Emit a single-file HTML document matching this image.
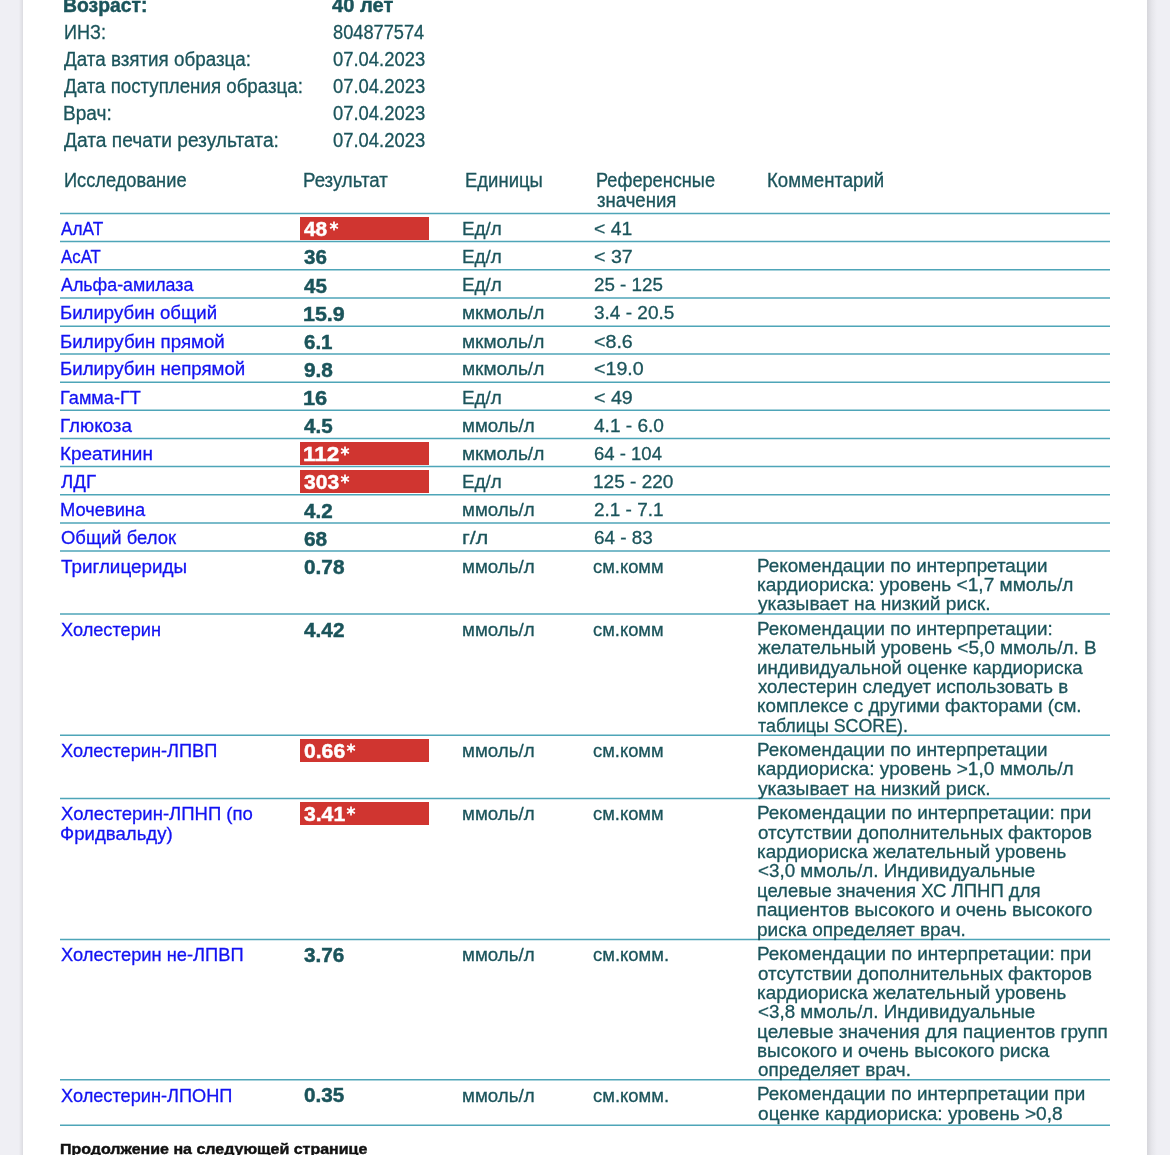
<!DOCTYPE html>
<html><head><meta charset="utf-8"><style>
html,body{margin:0;padding:0;}
body{width:1170px;height:1155px;overflow:hidden;position:relative;background:#efeff4;font-family:"Liberation Sans",sans-serif;color:#1b545b;}
.page{position:absolute;left:23px;top:0;width:1124px;height:1155px;background:#fff;}
.shL{position:absolute;left:19px;top:0;width:4px;height:1155px;background:linear-gradient(to right,#eeeef3,#dcdce1);}
.shR{position:absolute;left:1147px;top:0;width:10px;height:1155px;background:linear-gradient(to right,#d6d6db,#e6e6eb 50%,#efeff4);}
.t{position:absolute;white-space:nowrap;transform-origin:0 0;-webkit-text-stroke:0.3px currentColor;}
.wrap{position:absolute;left:0;top:0;width:1170px;height:1155px;will-change:transform;}
.l{position:absolute;height:1px;background:#4ea5b8;box-shadow:0 1px 0 rgba(78,165,184,.33),0 -1px 0 rgba(78,165,184,.28);}
.r{position:absolute;background:#d03530;}
.ast{position:absolute;overflow:visible;}
.lines{position:absolute;left:0;top:0;}
</style></head><body>
<div class="page"></div><div class="shL"></div><div class="shR"></div>
<div class="wrap">
<svg class="lines" width="1170" height="1155" viewBox="0 0 1170 1155"><g stroke="#4ea5b8" stroke-width="1.5"><line x1="60" x2="1110" y1="213.50" y2="213.50"/><line x1="60" x2="1110" y1="241.60" y2="241.60"/><line x1="60" x2="1110" y1="269.80" y2="269.80"/><line x1="60" x2="1110" y1="298.00" y2="298.00"/><line x1="60" x2="1110" y1="326.20" y2="326.20"/><line x1="60" x2="1110" y1="354.00" y2="354.00"/><line x1="60" x2="1110" y1="382.20" y2="382.20"/><line x1="60" x2="1110" y1="410.30" y2="410.30"/><line x1="60" x2="1110" y1="438.50" y2="438.50"/><line x1="60" x2="1110" y1="466.60" y2="466.60"/><line x1="60" x2="1110" y1="494.80" y2="494.80"/><line x1="60" x2="1110" y1="523.00" y2="523.00"/><line x1="60" x2="1110" y1="550.90" y2="550.90"/><line x1="60" x2="1110" y1="614.00" y2="614.00"/><line x1="60" x2="1110" y1="735.20" y2="735.20"/><line x1="60" x2="1110" y1="798.60" y2="798.60"/><line x1="60" x2="1110" y1="939.40" y2="939.40"/><line x1="60" x2="1110" y1="1079.70" y2="1079.70"/><line x1="60" x2="1110" y1="1125.20" y2="1125.20"/></g></svg>
<div class="r" style="left:300px;top:217.20px;width:129.00px;height:22.70px"></div>
<svg class="ast" style="left:328.50px;top:221.30px" width="10" height="10" viewBox="-5 -5 10 10"><path d="M0 -4.4V4.4M-3.9 -2.25L3.9 2.25M-3.9 2.25L3.9 -2.25" stroke="#fff" stroke-width="1.75" fill="none"/></svg>
<div class="r" style="left:300px;top:442.20px;width:129.00px;height:22.70px"></div>
<svg class="ast" style="left:340.40px;top:446.30px" width="10" height="10" viewBox="-5 -5 10 10"><path d="M0 -4.4V4.4M-3.9 -2.25L3.9 2.25M-3.9 2.25L3.9 -2.25" stroke="#fff" stroke-width="1.75" fill="none"/></svg>
<div class="r" style="left:300px;top:470.30px;width:129.00px;height:22.70px"></div>
<svg class="ast" style="left:340.40px;top:474.40px" width="10" height="10" viewBox="-5 -5 10 10"><path d="M0 -4.4V4.4M-3.9 -2.25L3.9 2.25M-3.9 2.25L3.9 -2.25" stroke="#fff" stroke-width="1.75" fill="none"/></svg>
<div class="r" style="left:300px;top:738.90px;width:129.00px;height:22.70px"></div>
<svg class="ast" style="left:346.40px;top:743.00px" width="10" height="10" viewBox="-5 -5 10 10"><path d="M0 -4.4V4.4M-3.9 -2.25L3.9 2.25M-3.9 2.25L3.9 -2.25" stroke="#fff" stroke-width="1.75" fill="none"/></svg>
<div class="r" style="left:300px;top:802.30px;width:129.00px;height:22.70px"></div>
<svg class="ast" style="left:346.40px;top:806.40px" width="10" height="10" viewBox="-5 -5 10 10"><path d="M0 -4.4V4.4M-3.9 -2.25L3.9 2.25M-3.9 2.25L3.9 -2.25" stroke="#fff" stroke-width="1.75" fill="none"/></svg>
<div class="t" style="left:63.43px;top:-5.00px;font-size:20px;line-height:20px;font-weight:700;-webkit-text-stroke:0.45px currentColor;transform:scaleX(0.9670);">Возраст:</div>
<div class="t" style="left:332.10px;top:-5.00px;font-size:20px;line-height:20px;font-weight:700;-webkit-text-stroke:0.45px currentColor;transform:scaleX(1.0065);">40 лет</div>
<div class="t" style="left:63.50px;top:22.00px;font-size:20px;line-height:20px;transform:scaleX(0.9021);">ИНЗ:</div>
<div class="t" style="left:332.50px;top:22.00px;font-size:20px;line-height:20px;transform:scaleX(0.9111);">804877574</div>
<div class="t" style="left:64.40px;top:49.00px;font-size:20px;line-height:20px;transform:scaleX(0.9406);">Дата взятия образца:</div>
<div class="t" style="left:332.50px;top:49.00px;font-size:20px;line-height:20px;transform:scaleX(0.9212);">07.04.2023</div>
<div class="t" style="left:64.40px;top:76.00px;font-size:20px;line-height:20px;transform:scaleX(0.9355);">Дата поступления образца:</div>
<div class="t" style="left:332.50px;top:76.00px;font-size:20px;line-height:20px;transform:scaleX(0.9212);">07.04.2023</div>
<div class="t" style="left:63.45px;top:103.00px;font-size:20px;line-height:20px;transform:scaleX(0.9533);">Врач:</div>
<div class="t" style="left:332.50px;top:103.00px;font-size:20px;line-height:20px;transform:scaleX(0.9212);">07.04.2023</div>
<div class="t" style="left:64.40px;top:130.00px;font-size:20px;line-height:20px;transform:scaleX(0.9585);">Дата печати результата:</div>
<div class="t" style="left:332.50px;top:130.00px;font-size:20px;line-height:20px;transform:scaleX(0.9212);">07.04.2023</div>
<div class="t" style="left:63.86px;top:171.00px;font-size:19.5px;line-height:19.5px;transform:scaleX(0.9351);">Исследование</div>
<div class="t" style="left:303.04px;top:171.00px;font-size:19.5px;line-height:19.5px;transform:scaleX(0.9572);">Результат</div>
<div class="t" style="left:465.35px;top:171.00px;font-size:19.5px;line-height:19.5px;transform:scaleX(0.9475);">Единицы</div>
<div class="t" style="left:596.27px;top:171.00px;font-size:19.5px;line-height:19.5px;transform:scaleX(0.9319);">Референсные</div>
<div class="t" style="left:597.20px;top:191.00px;font-size:19.5px;line-height:19.5px;transform:scaleX(0.9518);">значения</div>
<div class="t" style="left:767.35px;top:171.00px;font-size:19.5px;line-height:19.5px;transform:scaleX(0.9543);">Комментарий</div>
<div class="t" style="left:61.00px;top:219.00px;font-size:19px;line-height:19px;color:#1212f2;transform:scaleX(0.9095);">АлАТ</div>
<div class="t" style="left:304.00px;top:219.00px;font-size:20px;line-height:20px;font-weight:700;-webkit-text-stroke:0.45px currentColor;color:#fff;transform:scaleX(1.0442);">48</div>
<div class="t" style="left:462.41px;top:219.00px;font-size:19px;line-height:19px;transform:scaleX(0.9937);">Ед/л</div>
<div class="t" style="left:594.20px;top:219.00px;font-size:19px;line-height:19px;transform:scaleX(1.0178);">&lt; 41</div>
<div class="t" style="left:61.00px;top:247.00px;font-size:19px;line-height:19px;color:#1212f2;transform:scaleX(0.8862);">АсАТ</div>
<div class="t" style="left:304.40px;top:247.00px;font-size:20px;line-height:20px;font-weight:700;-webkit-text-stroke:0.45px currentColor;transform:scaleX(1.0261);">36</div>
<div class="t" style="left:462.41px;top:247.00px;font-size:19px;line-height:19px;transform:scaleX(0.9937);">Ед/л</div>
<div class="t" style="left:594.20px;top:247.00px;font-size:19px;line-height:19px;transform:scaleX(1.0341);">&lt; 37</div>
<div class="t" style="left:61.00px;top:275.00px;font-size:19px;line-height:19px;color:#1212f2;transform:scaleX(0.9380);">Альфа-амилаза</div>
<div class="t" style="left:304.40px;top:276.00px;font-size:20px;line-height:20px;font-weight:700;-webkit-text-stroke:0.45px currentColor;transform:scaleX(1.0261);">45</div>
<div class="t" style="left:462.41px;top:275.00px;font-size:19px;line-height:19px;transform:scaleX(0.9937);">Ед/л</div>
<div class="t" style="left:594.20px;top:275.00px;font-size:19px;line-height:19px;transform:scaleX(0.9891);">25 - 125</div>
<div class="t" style="left:60.02px;top:303.00px;font-size:19px;line-height:19px;color:#1212f2;transform:scaleX(0.9792);">Билирубин общий</div>
<div class="t" style="left:303.33px;top:304.00px;font-size:20px;line-height:20px;font-weight:700;-webkit-text-stroke:0.45px currentColor;transform:scaleX(1.0714);">15.9</div>
<div class="t" style="left:462.40px;top:303.00px;font-size:19px;line-height:19px;transform:scaleX(1.0044);">мкмоль/л</div>
<div class="t" style="left:594.20px;top:303.00px;font-size:19px;line-height:19px;transform:scaleX(1.0011);">3.4 - 20.5</div>
<div class="t" style="left:60.01px;top:332.00px;font-size:19px;line-height:19px;color:#1212f2;transform:scaleX(0.9851);">Билирубин прямой</div>
<div class="t" style="left:304.40px;top:332.00px;font-size:20px;line-height:20px;font-weight:700;-webkit-text-stroke:0.45px currentColor;transform:scaleX(1.0260);">6.1</div>
<div class="t" style="left:462.40px;top:332.00px;font-size:19px;line-height:19px;transform:scaleX(1.0044);">мкмоль/л</div>
<div class="t" style="left:594.20px;top:332.00px;font-size:19px;line-height:19px;transform:scaleX(1.0341);">&lt;8.6</div>
<div class="t" style="left:60.02px;top:359.00px;font-size:19px;line-height:19px;color:#1212f2;transform:scaleX(0.9837);">Билирубин непрямой</div>
<div class="t" style="left:304.40px;top:360.00px;font-size:20px;line-height:20px;font-weight:700;-webkit-text-stroke:0.45px currentColor;transform:scaleX(1.0405);">9.8</div>
<div class="t" style="left:462.40px;top:359.00px;font-size:19px;line-height:19px;transform:scaleX(1.0044);">мкмоль/л</div>
<div class="t" style="left:594.20px;top:359.00px;font-size:19px;line-height:19px;transform:scaleX(1.0335);">&lt;19.0</div>
<div class="t" style="left:60.05px;top:388.00px;font-size:19px;line-height:19px;color:#1212f2;transform:scaleX(0.9549);">Гамма-ГТ</div>
<div class="t" style="left:303.31px;top:388.00px;font-size:20px;line-height:20px;font-weight:700;-webkit-text-stroke:0.45px currentColor;transform:scaleX(1.0889);">16</div>
<div class="t" style="left:462.41px;top:388.00px;font-size:19px;line-height:19px;transform:scaleX(0.9937);">Ед/л</div>
<div class="t" style="left:594.20px;top:388.00px;font-size:19px;line-height:19px;transform:scaleX(1.0341);">&lt; 49</div>
<div class="t" style="left:60.01px;top:416.00px;font-size:19px;line-height:19px;color:#1212f2;transform:scaleX(0.9882);">Глюкоза</div>
<div class="t" style="left:304.40px;top:416.00px;font-size:20px;line-height:20px;font-weight:700;-webkit-text-stroke:0.45px currentColor;transform:scaleX(1.0296);">4.5</div>
<div class="t" style="left:462.41px;top:416.00px;font-size:19px;line-height:19px;transform:scaleX(0.9869);">ммоль/л</div>
<div class="t" style="left:594.20px;top:416.00px;font-size:19px;line-height:19px;transform:scaleX(1.0037);">4.1 - 6.0</div>
<div class="t" style="left:60.00px;top:444.00px;font-size:19px;line-height:19px;color:#1212f2;transform:scaleX(0.9959);">Креатинин</div>
<div class="t" style="left:302.88px;top:444.00px;font-size:20px;line-height:20px;font-weight:700;-webkit-text-stroke:0.45px currentColor;color:#fff;transform:scaleX(1.1239);">112</div>
<div class="t" style="left:462.40px;top:444.00px;font-size:19px;line-height:19px;transform:scaleX(1.0044);">мкмоль/л</div>
<div class="t" style="left:594.20px;top:444.00px;font-size:19px;line-height:19px;transform:scaleX(0.9750);">64 - 104</div>
<div class="t" style="left:61.00px;top:472.00px;font-size:19px;line-height:19px;color:#1212f2;transform:scaleX(0.9820);">ЛДГ</div>
<div class="t" style="left:304.00px;top:472.00px;font-size:20px;line-height:20px;font-weight:700;-webkit-text-stroke:0.45px currentColor;color:#fff;transform:scaleX(1.0528);">303</div>
<div class="t" style="left:462.41px;top:472.00px;font-size:19px;line-height:19px;transform:scaleX(0.9937);">Ед/л</div>
<div class="t" style="left:593.20px;top:472.00px;font-size:19px;line-height:19px;transform:scaleX(1.0010);">125 - 220</div>
<div class="t" style="left:60.04px;top:500.00px;font-size:19px;line-height:19px;color:#1212f2;transform:scaleX(0.9629);">Мочевина</div>
<div class="t" style="left:304.40px;top:501.00px;font-size:20px;line-height:20px;font-weight:700;-webkit-text-stroke:0.45px currentColor;transform:scaleX(1.0296);">4.2</div>
<div class="t" style="left:462.41px;top:500.00px;font-size:19px;line-height:19px;transform:scaleX(0.9869);">ммоль/л</div>
<div class="t" style="left:594.20px;top:500.00px;font-size:19px;line-height:19px;transform:scaleX(0.9979);">2.1 - 7.1</div>
<div class="t" style="left:61.00px;top:528.00px;font-size:19px;line-height:19px;color:#1212f2;transform:scaleX(0.9701);">Общий белок</div>
<div class="t" style="left:304.40px;top:529.00px;font-size:20px;line-height:20px;font-weight:700;-webkit-text-stroke:0.45px currentColor;transform:scaleX(1.0396);">68</div>
<div class="t" style="left:462.27px;top:528.00px;font-size:19px;line-height:19px;transform:scaleX(1.1316);">г/л</div>
<div class="t" style="left:594.20px;top:528.00px;font-size:19px;line-height:19px;transform:scaleX(0.9951);">64 - 83</div>
<div class="t" style="left:61.00px;top:557.00px;font-size:19px;line-height:19px;color:#1212f2;transform:scaleX(0.9910);">Триглицериды</div>
<div class="t" style="left:304.40px;top:557.00px;font-size:20px;line-height:20px;font-weight:700;-webkit-text-stroke:0.45px currentColor;transform:scaleX(1.0386);">0.78</div>
<div class="t" style="left:462.41px;top:557.00px;font-size:19px;line-height:19px;transform:scaleX(0.9869);">ммоль/л</div>
<div class="t" style="left:593.00px;top:557.00px;font-size:19px;line-height:19px;transform:scaleX(0.9667);">см.комм</div>
<div class="t" style="left:756.61px;top:556.00px;font-size:19px;line-height:19px;transform:scaleX(0.9902);">Рекомендации по интерпретации</div>
<div class="t" style="left:756.60px;top:575.00px;font-size:19px;line-height:19px;transform:scaleX(1.0042);">кардиориска: уровень &lt;1,7 ммоль/л</div>
<div class="t" style="left:757.60px;top:594.00px;font-size:19px;line-height:19px;transform:scaleX(1.0084);">указывает на низкий риск.</div>
<div class="t" style="left:61.00px;top:620.00px;font-size:19px;line-height:19px;color:#1212f2;transform:scaleX(0.9567);">Холестерин</div>
<div class="t" style="left:304.40px;top:620.00px;font-size:20px;line-height:20px;font-weight:700;-webkit-text-stroke:0.45px currentColor;transform:scaleX(1.0386);">4.42</div>
<div class="t" style="left:462.41px;top:620.00px;font-size:19px;line-height:19px;transform:scaleX(0.9869);">ммоль/л</div>
<div class="t" style="left:593.00px;top:620.00px;font-size:19px;line-height:19px;transform:scaleX(0.9667);">см.комм</div>
<div class="t" style="left:756.61px;top:619.00px;font-size:19px;line-height:19px;transform:scaleX(0.9896);">Рекомендации по интерпретации:</div>
<div class="t" style="left:757.60px;top:638.00px;font-size:19px;line-height:19px;transform:scaleX(0.9975);">желательный уровень &lt;5,0 ммоль/л. В</div>
<div class="t" style="left:756.62px;top:658.00px;font-size:19px;line-height:19px;transform:scaleX(0.9847);">индивидуальной оценке кардиориска</div>
<div class="t" style="left:757.60px;top:677.00px;font-size:19px;line-height:19px;transform:scaleX(0.9806);">холестерин следует использовать в</div>
<div class="t" style="left:756.61px;top:696.00px;font-size:19px;line-height:19px;transform:scaleX(0.9888);">комплексе с другими факторами (см.</div>
<div class="t" style="left:757.60px;top:716.00px;font-size:19px;line-height:19px;transform:scaleX(0.9388);">таблицы SCORE).</div>
<div class="t" style="left:61.00px;top:741.00px;font-size:19px;line-height:19px;color:#1212f2;transform:scaleX(0.9569);">Холестерин-ЛПВП</div>
<div class="t" style="left:304.00px;top:741.00px;font-size:20px;line-height:20px;font-weight:700;-webkit-text-stroke:0.45px currentColor;color:#fff;transform:scaleX(1.0566);">0.66</div>
<div class="t" style="left:462.41px;top:741.00px;font-size:19px;line-height:19px;transform:scaleX(0.9869);">ммоль/л</div>
<div class="t" style="left:593.00px;top:741.00px;font-size:19px;line-height:19px;transform:scaleX(0.9667);">см.комм</div>
<div class="t" style="left:756.61px;top:740.00px;font-size:19px;line-height:19px;transform:scaleX(0.9902);">Рекомендации по интерпретации</div>
<div class="t" style="left:756.60px;top:759.00px;font-size:19px;line-height:19px;transform:scaleX(1.0048);">кардиориска: уровень &gt;1,0 ммоль/л</div>
<div class="t" style="left:757.60px;top:779.00px;font-size:19px;line-height:19px;transform:scaleX(1.0084);">указывает на низкий риск.</div>
<div class="t" style="left:61.00px;top:804.00px;font-size:19px;line-height:19px;color:#1212f2;transform:scaleX(0.9750);">Холестерин-ЛПНП (по</div>
<div class="t" style="left:60.02px;top:824.00px;font-size:19px;line-height:19px;color:#1212f2;transform:scaleX(0.9795);">Фридвальду)</div>
<div class="t" style="left:304.00px;top:804.00px;font-size:20px;line-height:20px;font-weight:700;-webkit-text-stroke:0.45px currentColor;color:#fff;transform:scaleX(1.0566);">3.41</div>
<div class="t" style="left:462.41px;top:804.00px;font-size:19px;line-height:19px;transform:scaleX(0.9869);">ммоль/л</div>
<div class="t" style="left:593.00px;top:804.00px;font-size:19px;line-height:19px;transform:scaleX(0.9667);">см.комм</div>
<div class="t" style="left:756.60px;top:803.00px;font-size:19px;line-height:19px;transform:scaleX(0.9967);">Рекомендации по интерпретации: при</div>
<div class="t" style="left:757.60px;top:823.00px;font-size:19px;line-height:19px;transform:scaleX(0.9862);">отсутствии дополнительных факторов</div>
<div class="t" style="left:756.61px;top:842.00px;font-size:19px;line-height:19px;transform:scaleX(0.9925);">кардиориска желательный уровень</div>
<div class="t" style="left:757.60px;top:861.00px;font-size:19px;line-height:19px;transform:scaleX(0.9896);">&lt;3,0 ммоль/л. Индивидуальные</div>
<div class="t" style="left:756.62px;top:881.00px;font-size:19px;line-height:19px;transform:scaleX(0.9756);">целевые значения ХС ЛПНП для</div>
<div class="t" style="left:756.60px;top:900.00px;font-size:19px;line-height:19px;">пациентов высокого и очень высокого</div>
<div class="t" style="left:756.60px;top:920.00px;font-size:19px;line-height:19px;transform:scaleX(0.9988);">риска определяет врач.</div>
<div class="t" style="left:61.00px;top:945.00px;font-size:19px;line-height:19px;color:#1212f2;transform:scaleX(0.9632);">Холестерин не-ЛПВП</div>
<div class="t" style="left:304.40px;top:945.00px;font-size:20px;line-height:20px;font-weight:700;-webkit-text-stroke:0.45px currentColor;transform:scaleX(1.0360);">3.76</div>
<div class="t" style="left:462.41px;top:945.00px;font-size:19px;line-height:19px;transform:scaleX(0.9869);">ммоль/л</div>
<div class="t" style="left:593.00px;top:945.00px;font-size:19px;line-height:19px;transform:scaleX(0.9707);">см.комм.</div>
<div class="t" style="left:756.60px;top:944.00px;font-size:19px;line-height:19px;transform:scaleX(0.9967);">Рекомендации по интерпретации: при</div>
<div class="t" style="left:757.60px;top:964.00px;font-size:19px;line-height:19px;transform:scaleX(0.9862);">отсутствии дополнительных факторов</div>
<div class="t" style="left:756.61px;top:983.00px;font-size:19px;line-height:19px;transform:scaleX(0.9925);">кардиориска желательный уровень</div>
<div class="t" style="left:757.60px;top:1002.00px;font-size:19px;line-height:19px;transform:scaleX(0.9896);">&lt;3,8 ммоль/л. Индивидуальные</div>
<div class="t" style="left:756.60px;top:1022.00px;font-size:19px;line-height:19px;transform:scaleX(0.9989);">целевые значения для пациентов групп</div>
<div class="t" style="left:756.60px;top:1041.00px;font-size:19px;line-height:19px;transform:scaleX(0.9974);">высокого и очень высокого риска</div>
<div class="t" style="left:757.60px;top:1060.00px;font-size:19px;line-height:19px;transform:scaleX(0.9935);">определяет врач.</div>
<div class="t" style="left:61.00px;top:1086.00px;font-size:19px;line-height:19px;color:#1212f2;transform:scaleX(0.9572);">Холестерин-ЛПОНП</div>
<div class="t" style="left:304.40px;top:1085.00px;font-size:20px;line-height:20px;font-weight:700;-webkit-text-stroke:0.45px currentColor;transform:scaleX(1.0360);">0.35</div>
<div class="t" style="left:462.41px;top:1086.00px;font-size:19px;line-height:19px;transform:scaleX(0.9869);">ммоль/л</div>
<div class="t" style="left:593.00px;top:1086.00px;font-size:19px;line-height:19px;transform:scaleX(0.9707);">см.комм.</div>
<div class="t" style="left:756.61px;top:1084.00px;font-size:19px;line-height:19px;transform:scaleX(0.9945);">Рекомендации по интерпретации при</div>
<div class="t" style="left:757.60px;top:1104.00px;font-size:19px;line-height:19px;transform:scaleX(1.0057);">оценке кардиориска: уровень &gt;0,8</div>
<div class="t" style="left:59.67px;top:1141.00px;font-size:15.5px;line-height:15.5px;font-weight:700;-webkit-text-stroke:0.45px currentColor;color:#111;transform:scaleX(1.0321);">Продолжение на следующей странице</div>
</div>
</body></html>
